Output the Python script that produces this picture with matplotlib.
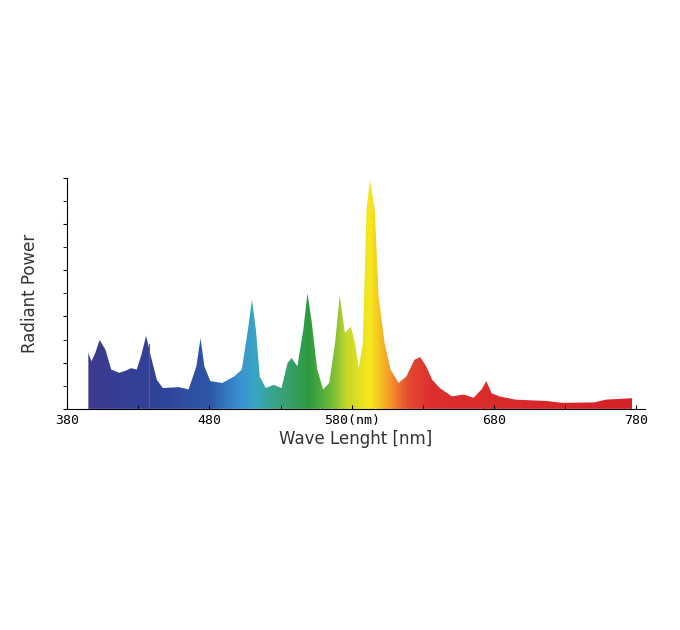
import numpy as np
import matplotlib.pyplot as plt
from matplotlib.colors import LinearSegmentedColormap
from matplotlib.patches import Polygon

# spectrum (nm, relative power 0..5)
wavelength = [395.0, 397.2, 399.9, 402.9, 407.0, 411.1, 416.7, 420.8, 425.1, 429.0, 432.0, 435.6,
              438.9, 443.1, 447.3, 458.4, 465.4, 470.9, 473.8, 476.5, 480.7, 489.1, 497.4,
              502.8, 507.1, 509.9, 512.7, 515.4, 519.6, 525.2, 530.7, 534.9, 537.8, 541.8, 546.0,
              548.9, 551.7, 555.8, 559.9, 564.2, 568.3, 571.6, 575.2, 579.4, 582.3, 585.0, 587.8,
              590.4, 592.8, 596.2, 598.9, 603.1, 607.3, 612.9, 618.4, 624.0, 628.2, 632.3, 636.5,
              641.9, 650.3, 658.7, 665.6, 671.2, 674.6, 678.2, 683.8, 694.9, 716.9, 728.0,
              750.4, 758.6, 777.0]
power = [1.21, 1.03, 1.21, 1.49, 1.28, 0.85, 0.78, 0.82, 0.88, 0.85, 1.14, 1.58,
         1.14, 0.63, 0.45, 0.47, 0.42, 0.92, 1.53, 0.92, 0.60, 0.56, 0.70,
         0.85, 1.71, 2.36, 1.71, 0.70, 0.45, 0.52, 0.45, 0.99, 1.10, 0.92, 1.71,
         2.50, 1.93, 0.85, 0.42, 0.56, 1.42, 2.46, 1.64, 1.78, 1.42, 0.88, 1.42,
         4.30, 4.96, 4.30, 2.43, 1.42, 0.85, 0.56, 0.70, 1.06, 1.12, 0.92, 0.63,
         0.45, 0.27, 0.31, 0.24, 0.42, 0.60, 0.34, 0.27, 0.20, 0.17, 0.13,
         0.14, 0.20, 0.23]

xticks = [380, 480, 580, 680, 780]
xtick_labels = ['380', '480', '580(nm)', '680', '780']

fig = plt.figure(figsize=(6.8, 6.3), dpi=100)
ax = fig.add_axes([0.0985, 0.351, 0.85, 0.367])

stops = [(395, '#3c3a90'), (445, '#2f449a'), (480, '#2d56a8'), (500, '#3a8fd0'),
         (512, '#38a6c4'), (530, '#3aa27a'), (550, '#2e9a3e'), (565, '#6ab83a'),
         (577, '#c8d82a'), (593, '#f7e81e'), (606, '#f4a02a'), (620, '#e44a30'),
         (636, '#dd2f2f'), (777, '#d42228')]
lo, hi = stops[0][0], stops[-1][0]
cmap = LinearSegmentedColormap.from_list('spec', [((w - lo) / (hi - lo), c) for w, c in stops])
grad = np.linspace(0, 1, 800).reshape(1, -1)
img = ax.imshow(grad, cmap=cmap, extent=[lo, hi, 0, 5], aspect='auto', zorder=1)

verts = [(wavelength[0], 0)] + list(zip(wavelength, power)) + [(wavelength[-1], 0)]
poly = Polygon(verts, closed=True, facecolor='none', edgecolor='none')
ax.add_patch(poly)
img.set_clip_path(poly)

# thin red line inside the blue area
ax.plot([437.8, 437.8], [0, 1.4], color='#d03040', lw=0.8, zorder=2)

ax.set_xlim(380, 786)
ax.set_ylim(0, 5)
ax.spines['top'].set_visible(False)
ax.spines['right'].set_visible(False)
ax.set_xticks(xticks)
ax.set_xticklabels(xtick_labels, fontsize=9.5, family='DejaVu Sans Mono')
ax.set_xticks([430, 530, 630, 730], minor=True)
ax.set_yticks(np.arange(0, 5.01, 1))
ax.set_yticks(np.arange(0.5, 5, 1), minor=True)
ax.set_yticklabels([])
ax.tick_params(axis='x', which='both', direction='in', length=3)
ax.tick_params(axis='y', which='both', direction='out', length=3)
ax.set_xlabel('Wave Lenght [nm]', fontsize=12, color='#333333', labelpad=2)
ax.set_ylabel('Radiant Power', fontsize=12, color='#333333', labelpad=14)

fig.savefig('out.png', dpi=100)
